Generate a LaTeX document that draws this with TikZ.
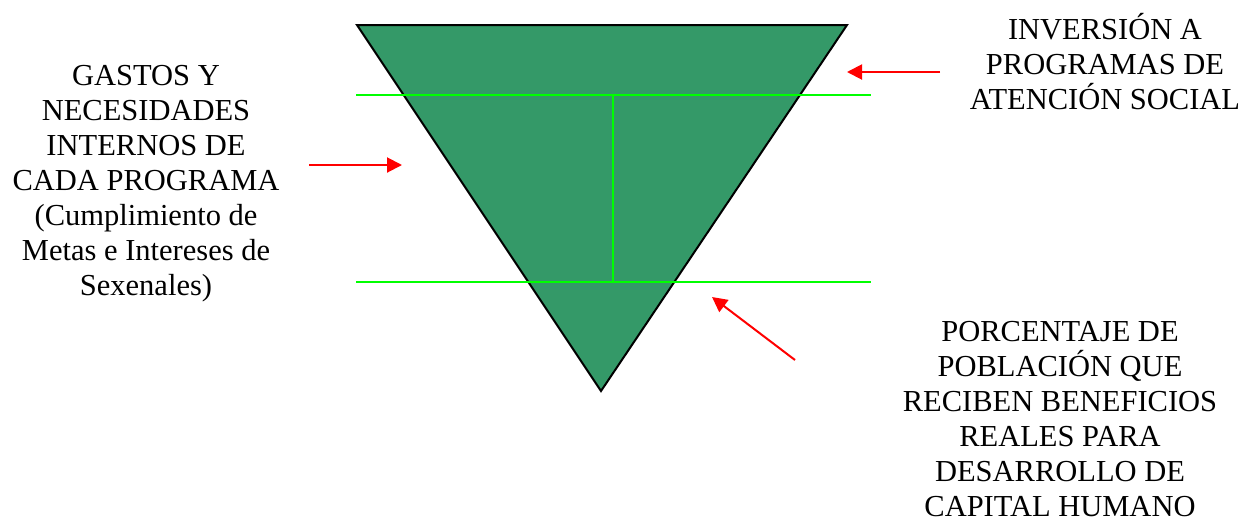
\documentclass[tikz,border=0pt]{standalone}
\usepackage{fontspec}
\setmainfont{Liberation Serif}
\usetikzlibrary{arrows.meta}
\definecolor{embudo}{RGB}{52,153,104}
\definecolor{verdecorte}{RGB}{0,255,0}

\begin{document}
\begin{tikzpicture}[
    x=1pt, y=-1pt,
    etiqueta/.style={align=center, inner sep=0pt, font=\fontsize{30.5}{35}\selectfont},
    flecha/.style={red, line width=2pt, -{Triangle[length=15pt, width=15pt]}},
    corte/.style={verdecorte, line width=2pt}
]
\useasboundingbox (0,0) rectangle (1246,523);

% Funnel
\draw[fill=embudo, line width=2pt] (357,25) -- (847,25) -- (601,391) -- cycle;

% Cut lines
\coordinate (c1a) at (356,95);  \coordinate (c1b) at (871,95);
\coordinate (c2a) at (356,282); \coordinate (c2b) at (871,282);
\coordinate (cva) at (613,95);  \coordinate (cvb) at (613,282);
\draw[corte] (c1a) -- (c1b);
\draw[corte] (c2a) -- (c2b);
\draw[corte] (cva) -- (cvb);

% Labels
\node[etiqueta, anchor=north] (gastos) at (146,65.5)
    {GASTOS Y\\NECESIDADES\\INTERNOS DE\\CADA PROGRAMA\\(Cumplimiento de\\Metas e Intereses de\\Sexenales)};
\node[etiqueta, anchor=north] (inversion) at (1105,13.5)
    {INVERSIÓN A\\PROGRAMAS DE\\ATENCIÓN SOCIAL};
\node[etiqueta, anchor=north] (poblacion) at (1060,321)
    {PORCENTAJE DE\\POBLACIÓN QUE\\RECIBEN BENEFICIOS\\REALES PARA\\DESARROLLO DE\\CAPITAL HUMANO};

% Arrows
\coordinate (fg1) at (309,165); \coordinate (fg2) at (402,165);
\coordinate (fi1) at (940,72);  \coordinate (fi2) at (847,72);
\coordinate (fp1) at (795,360); \coordinate (fp2) at (712,297);
\draw[flecha] (fg1) -- (fg2);
\draw[flecha] (fi1) -- (fi2);
\draw[flecha] (fp1) -- (fp2);

\end{tikzpicture}
\end{document}
